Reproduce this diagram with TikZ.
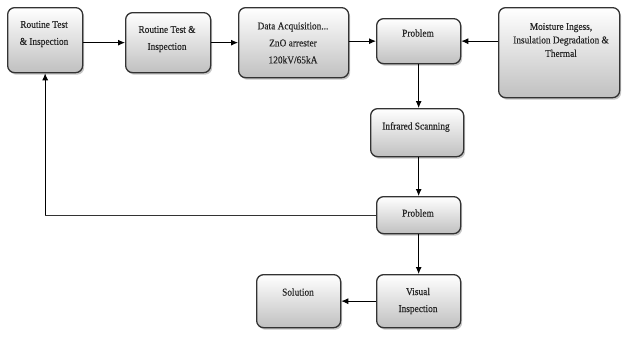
\documentclass[tikz,border=0pt]{standalone}
\usepackage{fontspec}
\setmainfont{Liberation Serif}
\newfontfamily\boxfont[FakeStretch=0.9,FakeBold=0.4]{Liberation Serif}
\usetikzlibrary{arrows.meta,shadows}
\definecolor{boxline}{HTML}{333333}
\definecolor{boxbot}{HTML}{C0C0C0}
\tikzset{
  boxnode/.style={draw=boxline, line width=1.3pt, rounded corners=7pt,
    top color=white, bottom color=boxbot, anchor=north west, inner sep=0pt,
    drop shadow={shadow xshift=1.5pt, shadow yshift=-2pt, fill=black!45, opacity=0.5}},
  txt/.style={align=center, inner sep=0pt, text=black!85, font=\boxfont\fontsize{10.4}{17}\selectfont},
  txtm/.style={align=center, inner sep=0pt, text=black!85, font=\boxfont\fontsize{10.4}{13.5}\selectfont},
  arr/.style={draw=black, line width=0.9pt, -{Latex[length=7pt,width=6pt]}},
  ln/.style={draw=boxline, line width=0.9pt}
}
\begin{document}
\begin{tikzpicture}[x=1pt,y=-1pt]
\useasboundingbox (0,0) rectangle (622,338);
% boxes
\node[boxnode, minimum width=75pt, minimum height=65pt] (b1) at (7,7) {};
\node[boxnode, minimum width=85pt, minimum height=60pt] (b2) at (125,12) {};
\node[boxnode, minimum width=110pt, minimum height=70pt] (b3) at (238,7) {};
\node[boxnode, minimum width=84pt, minimum height=45pt] (p1) at (376,18) {};
\node[boxnode, minimum width=121pt, minimum height=90pt] (m) at (498,7) {};
\node[boxnode, minimum width=93pt, minimum height=48pt] (ir) at (370,108) {};
\node[boxnode, minimum width=84pt, minimum height=37pt] (p2) at (376,196) {};
\node[boxnode, minimum width=84pt, minimum height=53pt] (vis) at (376,274) {};
\node[boxnode, minimum width=84pt, minimum height=53pt] (sol) at (256,274) {};
% texts
\node[txt] (t1) at (44,34) {Routine Test\\\& Inspection};
\node[txt] (t2) at (167,39) {Routine Test \&\\Inspection};
\node[txt] (t3) at (293,43) {Data Acquisition...\\ZnO arrester\\120kV/65kA};
\node[txt] (t4) at (418,33) {Problem};
\node[txtm] (t5) at (561,40) {Moisture Ingess,\\Insulation Degradation \&\\Thermal};
\node[txt] (t6) at (416,127) {Infrared Scanning};
\node[txt] (t7) at (418,213) {Problem};
\node[txt] (t8) at (418,301) {Visual\\Inspection};
\node[txt] (t9) at (298,292) {Solution};
% connectors
\draw[arr] (b1.east |- b2.west) -- (b2.west);
\draw[arr] (b2.east) -- (b2.east -| b3.west);
\draw[arr] (b3.east |- p1.west) -- (p1.west);
\draw[arr] (m.west |- p1.east) -- (p1.east);
\draw[arr] (p1.south) -- (p1.south |- ir.north);
\draw[arr] (p2.north |- ir.south) -- (p2.north);
\draw[arr] (p2.south) -- (vis.north);
\draw[arr] (vis.west) -- (vis.west -| sol.east);
\draw[ln] (p2.west) -- (b1.south |- p2.west);
\draw[arr] (b1.south |- p2.west) -- (b1.south);
\end{tikzpicture}
\end{document}
